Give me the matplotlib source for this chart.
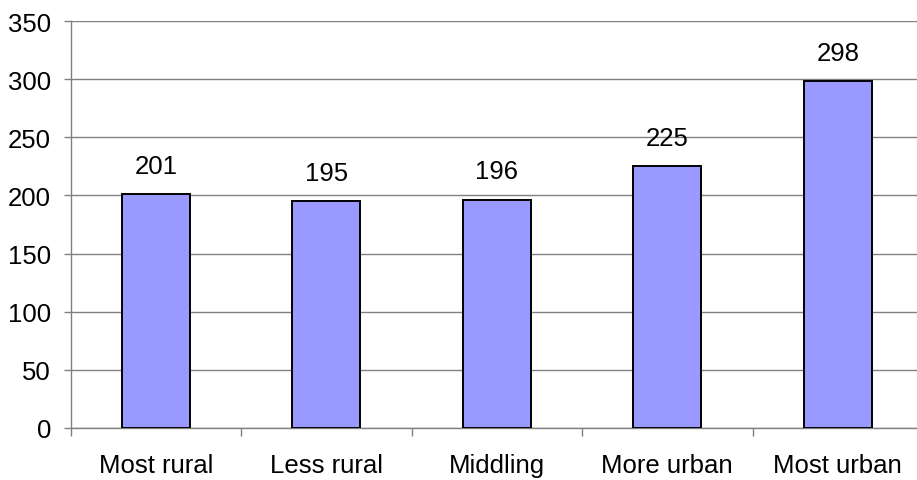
import matplotlib
matplotlib.use('Agg')
import matplotlib.pyplot as plt
import numpy as np

categories = ['Most rural', 'Less rural', 'Middling', 'More urban', 'Most urban']
values = [201, 195, 196, 225, 298]
y_ticks = [0, 50, 100, 150, 200, 250, 300, 350]

plt.rcParams['font.family'] = ['Liberation Sans', 'DejaVu Sans']
FS = 18.5

fig = plt.figure(figsize=(9.17, 4.81), dpi=100)
# right edge runs past the figure, as in the original
ax = fig.add_axes([70.5 / 917, 52 / 481, 852.5 / 917, 407 / 481])

x = np.arange(len(categories))
ax.bar(x, values, width=0.40, color='#9999ff', edgecolor='black', linewidth=1.4, zorder=3)
for xi, v in zip(x, values):
    ax.annotate(str(v), (xi, v), xytext=(0, 12), textcoords='offset points',
                ha='center', va='bottom', fontsize=FS)

ax.set_xlim(-0.5, len(categories) - 0.5)
ax.set_ylim(0, 350)
ax.set_yticks(y_ticks)
ax.yaxis.grid(True, color='#808080', linewidth=1.0, zorder=0)

# category labels centred, ticks on the boundaries
ax.set_xticks(x)
ax.set_xticklabels(categories)
ax.set_xticks(np.arange(len(categories) + 1) - 0.5, minor=True)
ax.tick_params(axis='x', which='major', length=0, pad=18, labelsize=FS)
ax.tick_params(axis='x', which='minor', length=6, color='#808080', width=1)
ax.tick_params(axis='y', length=5, color='#808080', width=1, pad=9, labelsize=FS)

for side in ('top', 'right'):
    ax.spines[side].set_visible(False)
for side in ('left', 'bottom'):
    ax.spines[side].set_color('#808080')
    ax.spines[side].set_linewidth(1.0)

fig.savefig('out.png', dpi=100)
